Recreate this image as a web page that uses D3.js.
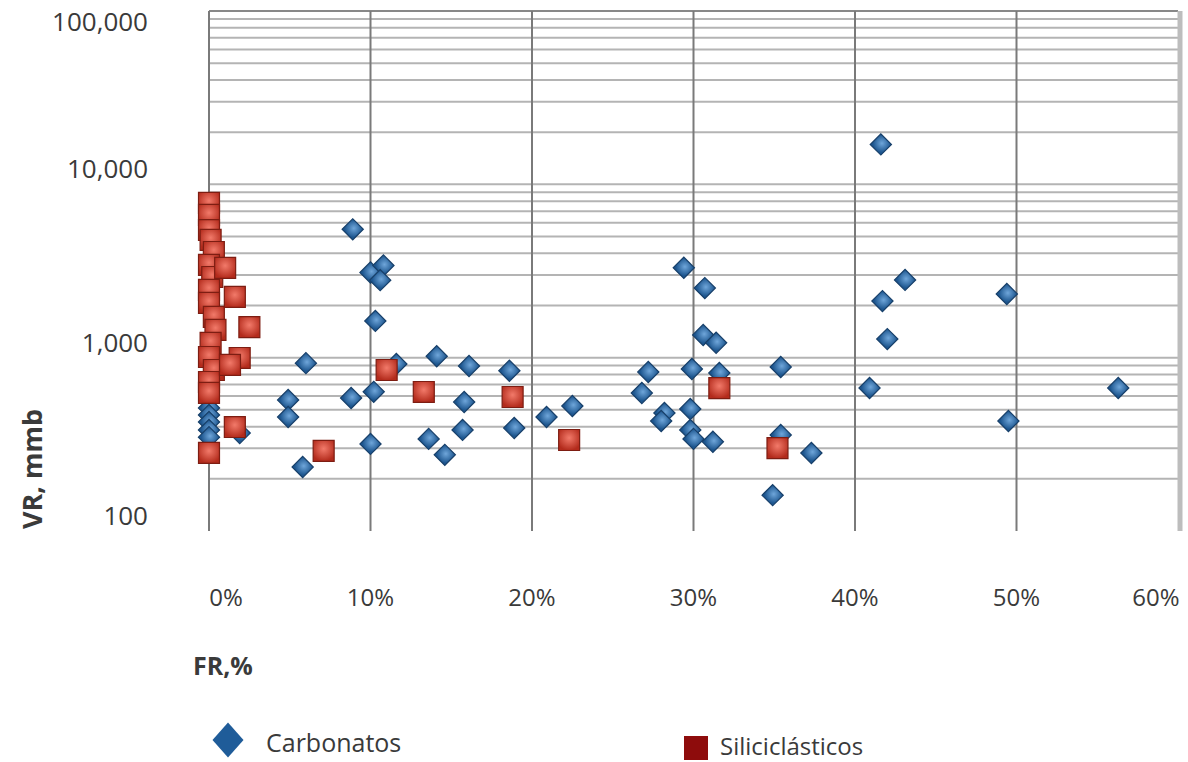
<!DOCTYPE html>
<html lang="es">
<head>
<meta charset="utf-8">
<title>VR vs FR</title>
<script src="https://d3js.org/d3.v7.min.js"></script>
<style>
  body { margin: 0; background: #fff; }
  text { font-family: "Open Sans", "Noto Sans", sans-serif; fill: #3a3a3a; }
</style>
</head>
<body>
<script>
// Carbonatos: FR (%) and VR (mmb)
var carbFR = [41.6, 8.9, 10.0, 10.8, 10.6, 10.3, 6.0, 11.6, 14.1, 16.1, 18.6, 8.8, 10.2, 15.8,
              10.0, 13.6, 14.6, 15.7, 18.9, 20.9, 4.9, 4.9, 5.8, 1.9, 0.0, 0.0, 0.0, 0.0, 0.0,
              29.4, 30.7, 30.6, 31.4, 27.2, 29.9, 31.6, 35.4, 26.8, 22.5, 28.2, 28.0, 29.8,
              29.8, 30.0, 31.2, 35.4, 37.3, 34.9, 43.1, 41.7, 49.4, 42.0, 40.9, 56.3, 49.5];
var carbVR = [17000, 5500, 3100, 3400, 2800, 1630, 930, 920, 1020, 895, 840, 585, 635, 555,
              318, 340, 275, 383, 393, 455, 570, 455, 234, 367, 513, 467, 425, 383, 348,
              3300, 2520, 1350, 1220, 826, 861, 816, 883, 626, 526, 480, 431, 506,
              383, 340, 327, 358, 282, 161, 2810, 2120, 2330, 1280, 668, 668, 431];

// Siliciclásticos: FR (%) and VR (mmb)
var siliFR = [0.0, 0.0, 0.0, 0.1, 0.3, 0.0, 0.2, 0.0, 0.0, 0.3, 0.4, 0.1, 0.0, 0.3, 0.0, 0.0, 0.0,
              1.0, 1.6, 2.5, 1.9, 1.3, 1.6, 7.1, 11.0, 13.3, 18.8, 22.3, 31.6, 35.2];
var siliVR = [7820, 6660, 5450, 4780, 4070, 3430, 2920, 2460, 2070, 1720, 1445, 1217, 1009, 849, 724, 626, 282,
              3300, 2240, 1500, 996, 908, 398, 290, 849, 634, 593, 335, 668, 301];

var xTicks = [0, 10, 20, 30, 40, 50, 60];
var yLabels = [100, 1000, 10000, 100000];
var seriesNames = ["Carbonatos", "Siliciclásticos"];

var W = 1188, H = 762;
var plot = {left: 209, right: 1178, top: 11, bottom: 531};

var svg = d3.select("body").append("svg")
    .attr("width", W).attr("height", H);

var x = d3.scaleLinear().domain([0, 60]).range([plot.left, plot.right]);
var y = d3.scaleLog().domain([100, 100000]).range([plot.bottom, plot.top]);

// gradients for the shiny markers
var defs = svg.append("defs");
var gBlue = defs.append("radialGradient").attr("id", "gBlue").attr("cx", "50%").attr("cy", "40%").attr("r", "60%");
gBlue.append("stop").attr("offset", "0%").attr("stop-color", "#6fa6da");
gBlue.append("stop").attr("offset", "100%").attr("stop-color", "#1d568f");
var gRed = defs.append("radialGradient").attr("id", "gRed").attr("cx", "50%").attr("cy", "40%").attr("r", "60%");
gRed.append("stop").attr("offset", "0%").attr("stop-color", "#f27a6a");
gRed.append("stop").attr("offset", "100%").attr("stop-color", "#b32b1c");

// horizontal grid (minor log lines)
var hLines = y.ticks().filter(function (d) { return d > 100; });
svg.append("g").selectAll("line")
    .data(hLines)
    .enter().append("line")
    .attr("x1", plot.left).attr("x2", plot.right)
    .attr("y1", function (d) { return y(d); })
    .attr("y2", function (d) { return y(d); })
    .attr("stroke", function (d) { return d === 100000 ? "#888" : "#b4b4b4"; })
    .attr("stroke-width", 2);

// vertical grid
svg.append("g").selectAll("line")
    .data(xTicks.slice(0, -1))
    .enter().append("line")
    .attr("x1", function (d) { return x(d); })
    .attr("x2", function (d) { return x(d); })
    .attr("y1", plot.top).attr("y2", plot.bottom)
    .attr("stroke", "#7a7a7a")
    .attr("stroke-width", 2);

// right edge bar
svg.append("line")
    .attr("x1", x(60) + 2).attr("x2", x(60) + 2)
    .attr("y1", plot.top).attr("y2", plot.bottom)
    .attr("stroke", "#bdbdbd").attr("stroke-width", 5);

// y labels
svg.append("g").selectAll("text")
    .data(yLabels)
    .enter().append("text")
    .attr("x", 148)
    .attr("y", function (d) { return Math.max(y(d) - 15, 22); })
    .attr("dy", "0.35em")
    .attr("text-anchor", "end")
    .style("font-size", "26px")
    .text(d3.format(","));

// x labels
svg.append("g").selectAll("text")
    .data(xTicks)
    .enter().append("text")
    .attr("x", function (d) { return Math.min(Math.max(x(d), 226), 1156); })
    .attr("y", 606)
    .attr("text-anchor", "middle")
    .style("font-size", "24px")
    .text(function (d) { return d + "%"; });

// axis titles
svg.append("text")
    .attr("transform", "translate(42,469) rotate(-90)")
    .attr("text-anchor", "middle")
    .style("font-size", "27px").style("font-weight", "bold")
    .text("VR, mmb");

svg.append("text")
    .attr("x", 193).attr("y", 675)
    .style("font-size", "25px").style("font-weight", "bold")
    .text("FR,%");

// markers
var diamond = d3.symbol().type(d3.symbolSquare).size(225);
var square = d3.symbol().type(d3.symbolSquare).size(440);

svg.append("g").selectAll("path")
    .data(d3.range(carbFR.length))
    .enter().append("path")
    .attr("d", diamond)
    .attr("transform", function (i) {
        return "translate(" + x(carbFR[i]) + "," + y(carbVR[i]) + ") rotate(45)";
    })
    .attr("fill", "url(#gBlue)")
    .attr("stroke", "#173f69").attr("stroke-width", 1.2);

svg.append("g").selectAll("path")
    .data(d3.range(siliFR.length))
    .enter().append("path")
    .attr("d", square)
    .attr("transform", function (i) {
        return "translate(" + x(siliFR[i]) + "," + y(siliVR[i]) + ")";
    })
    .attr("fill", "url(#gRed)")
    .attr("stroke", "#7d1d12").attr("stroke-width", 1.2);

// legend
var leg = svg.append("g");
leg.append("path")
    .attr("d", d3.symbol().type(d3.symbolSquare).size(620))
    .attr("transform", "translate(228,740) scale(0.88,1) rotate(45)")
    .attr("fill", "#1f5c99");
leg.append("text").attr("x", 266).attr("y", 752)
    .style("font-size", "25px").text(seriesNames[0]);
leg.append("rect")
    .attr("x", 684).attr("y", 736).attr("width", 24).attr("height", 24)
    .attr("fill", "#8e0c0c");
leg.append("text").attr("x", 720).attr("y", 755)
    .style("font-size", "24px").text(seriesNames[1]);
</script>
</body>
</html>
